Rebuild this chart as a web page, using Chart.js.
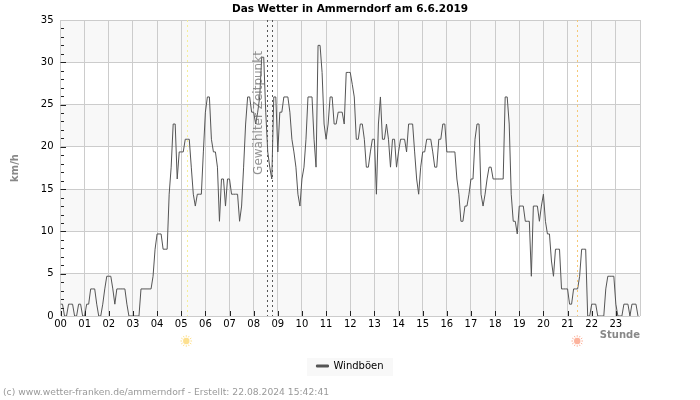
<!DOCTYPE html>
<html><head><meta charset="utf-8">
<style>html,body{margin:0;padding:0;background:#fff}canvas{display:block}</style>
<script src="https://cdn.jsdelivr.net/npm/chart.js@4"></script></head>
<body><canvas id="c" width="700" height="400"></canvas>
<script>
const titleText = 'Das Wetter in Ammerndorf am 6.6.2019';
const seriesName = 'Windböen';
const footerText = '(c) www.wetter-franken.de/ammerndorf - Erstellt: 22.08.2024 15:42:41';
const hourLabels = ['00','01','02','03','04','05','06','07','08','09','10','11','12','13','14','15','16','17','18','19','20','21','22','23'];
const sunriseHour = 5.25, sunsetHour = 21.4;
const selectedHours = [8.54, 8.77];
const windGusts = [
 1.4,1.4,0,0,1.4,1.4,1.4,0,0,1.4,1.4,0,
 0,1.4,1.4,3.2,3.2,3.2,1.4,0,0,1.4,3.2,4.7,
 4.7,4.7,3.2,1.4,3.2,3.2,3.2,3.2,3.2,1.4,0,0,
 0,0,0,0,3.2,3.2,3.2,3.2,3.2,3.2,4.7,7.9,
 9.7,9.7,9.7,7.9,7.9,7.9,14.4,17.6,22.7,22.7,16.2,19.4,
 19.4,19.4,20.9,20.9,20.9,17.6,14.4,13,14.4,14.4,14.4,19.4,
 24.1,25.9,25.9,20.9,19.4,19.4,17.6,11.2,16.2,16.2,13,16.2,
 16.2,14.4,14.4,14.4,14.4,11.2,13,17.6,22.7,25.9,25.9,24.1,
 24.1,22.7,24.1,25.9,30.6,30.6,24.1,19.4,17.6,16.2,25.9,25.9,
 19.4,24.1,24.1,25.9,25.9,25.9,24.1,20.9,19.4,17.6,14.4,13,
 16.2,17.6,20.9,25.9,25.9,25.9,20.9,17.6,32,32,28.8,22.7,
 20.9,22.7,25.9,25.9,22.7,22.7,24.1,24.1,24.1,22.7,28.8,28.8,
 28.8,27.4,25.9,20.9,20.9,22.7,22.7,20.9,17.6,17.6,19.4,20.9,
 20.9,14.4,22.7,25.9,20.9,20.9,22.7,20.9,17.6,20.9,20.9,17.6,
 19.4,20.9,20.9,20.9,19.4,22.7,22.7,22.7,19.4,16.2,14.4,17.6,
 19.4,19.4,20.9,20.9,20.9,19.4,17.6,17.6,20.9,20.9,22.7,22.7,
 19.4,19.4,19.4,19.4,19.4,16.2,14.4,11.2,11.2,13,13,14.4,
 16.2,16.2,20.9,22.7,22.7,14.4,13,14.4,16.2,17.6,17.6,16.2,
 16.2,16.2,16.2,16.2,16.2,25.9,25.9,22.7,14.4,11.2,11.2,9.7,
 13,13,13,11.2,11.2,11.2,4.7,13,13,13,11.2,13,
 14.4,11.2,9.7,9.7,6.5,4.7,7.9,7.9,7.9,3.2,3.2,3.2,
 3.2,1.4,1.4,3.2,3.2,3.2,4.7,7.9,7.9,7.9,0,0,
 1.4,1.4,1.4,0,0,0,0,3.2,4.7,4.7,4.7,4.7,
 1.4,0,0,0,1.4,1.4,1.4,0,1.4,1.4,1.4,0
];
const FONT = '"DejaVu Sans"';

function sun(ctx, x, y, color) {
  ctx.save();
  ctx.fillStyle = color; ctx.strokeStyle = color; ctx.lineWidth = 1; ctx.globalAlpha = .75;
  ctx.beginPath(); ctx.arc(x, y, 3.2, 0, Math.PI*2); ctx.fill();
  for (let k = 0; k < 12; k++) {
    const a = k*Math.PI/6;
    ctx.beginPath();
    ctx.moveTo(x+Math.cos(a)*4.2, y+Math.sin(a)*4.2);
    ctx.lineTo(x+Math.cos(a)*5.8, y+Math.sin(a)*5.8);
    ctx.stroke();
  }
  ctx.restore();
}
function vline(ctx, x, top, bottom, color, dash) {
  ctx.save(); ctx.strokeStyle = color; ctx.lineWidth = 1; ctx.setLineDash(dash);
  ctx.beginPath(); ctx.moveTo(Math.round(x)+.5, top); ctx.lineTo(Math.round(x)+.5, bottom); ctx.stroke(); ctx.restore();
}
const decor = {
  id: 'decor',
  afterLayout(chart) {
    [chart.legend, chart.titleBlock].forEach(b => { b.left += 30; b.right += 30; });
  },
  beforeDraw(chart) {
    const {ctx, chartArea:a, scales:{y}} = chart;
    ctx.save();
    for (let v = 0; v < 35; v += 10) {
      ctx.fillStyle = '#f8f8f8';
      ctx.fillRect(a.left, y.getPixelForValue(v+5), a.right-a.left, y.getPixelForValue(v)-y.getPixelForValue(v+5));
    }
    ctx.fillStyle = '#f8f8f8';
    ctx.fillRect(307, 358, 86, 18);
    ctx.restore();
  },
  afterDatasetsDraw(chart) {
    const {ctx, chartArea:a, scales:{x, y}} = chart;
    vline(ctx, x.getPixelForValue(sunriseHour), a.top, a.bottom, '#f5ee9a', [2,3]);
    vline(ctx, x.getPixelForValue(sunsetHour), a.top, a.bottom, '#f5c878', [2,3]);
    selectedHours.forEach(h => vline(ctx, x.getPixelForValue(h), a.top, a.bottom, '#555', [2,3]));
    ctx.save();
    ctx.translate(259, 113); ctx.rotate(-Math.PI/2);
    ctx.font = '12px '+FONT; ctx.fillStyle = 'rgba(110,110,110,.75)';
    ctx.textAlign = 'center'; ctx.textBaseline = 'middle';
    ctx.fillText('Gewählter Zeitpunkt', 0, 0);
    ctx.restore();
    // inward tick marks
    ctx.save(); ctx.strokeStyle = '#222'; ctx.lineWidth = 1;
    for (let v = 0; v <= 35; v++) {
      const p = Math.round(y.getPixelForValue(v))+.5;
      if (v === 0 || v === 35) continue;
      ctx.beginPath(); ctx.moveTo(a.left+(v%5?0.5:0), p); ctx.lineTo(a.left+(v%5?3.5:5.5), p); ctx.stroke();
    }
    hourLabels.forEach((_, h) => {
      const p = Math.round(x.getPixelForValue(h))+.5;
      ctx.beginPath(); ctx.moveTo(p, a.bottom); ctx.lineTo(p, a.bottom-5); ctx.stroke();
    });
    ctx.restore();
    sun(ctx, x.getPixelForValue(sunriseHour)-1, 341, '#fcd56a');
    sun(ctx, x.getPixelForValue(sunsetHour), 341, '#fb9a7c');
    ctx.save();
    ctx.font = '9.2px '+FONT; ctx.fillStyle = '#999'; ctx.textBaseline = 'middle';
    ctx.fillText(footerText, 3, 393);
    ctx.restore();
  }
};
new Chart(document.getElementById('c'), {
  type: 'line',
  data: { datasets: [{
    label: seriesName,
    data: windGusts.map((v, i) => ({x: i/12, y: v})),
    borderColor: '#555', backgroundColor: '#555', borderWidth: 1,
    pointRadius: 0, tension: 0, fill: false
  }]},
  options: {
    responsive: false, animation: false, events: [],
    layout: { padding: { left: 0, right: 60, top: 0, bottom: 19 } },
    plugins: {
      tooltip: {enabled: false},
      title: { display: true, text: titleText, color: '#000',
        font: {family: FONT, size: 10.5, weight: 'bold', lineHeight: 1.2}, padding: {top: 3, bottom: 4.4} },
      legend: { position: 'bottom', labels: { color: '#000', font: {family: FONT, size: 10},
        boxWidth: 12, boxHeight: 2, padding: 20 } }
    },
    scales: {
      x: { type: 'linear', min: 0, max: 24,
        afterFit(s){ s.height = 25; },
        border: {display: false},
        grid: {color: '#ccc', lineWidth: 1, drawTicks: false},
        title: {display: true, text: 'Stunde', align: 'end', color: '#888', padding: 0,
          font: {family: FONT, size: 10, weight: 'bold', lineHeight: 1.2}},
        ticks: { stepSize: 1, color: '#000', font: {family: FONT, size: 10}, padding: 2, maxRotation: 0, autoSkip: false,
          callback: v => hourLabels[v] ?? '' } },
      y: { min: 0, max: 35,
        afterFit(s){ s.width = 60.5; },
        border: {display: false},
        grid: {color: '#ccc', lineWidth: 1, drawTicks: false},
        title: {display: true, text: 'km/h', color: '#888', padding: {top: 9, bottom: 0},
          font: {family: FONT, size: 10, weight: 'bold', lineHeight: 1.2}},
        ticks: { stepSize: 5, color: '#000', font: {family: FONT, size: 10}, padding: 7 } }
    }
  },
  plugins: [decor]
});
</script></body></html>
